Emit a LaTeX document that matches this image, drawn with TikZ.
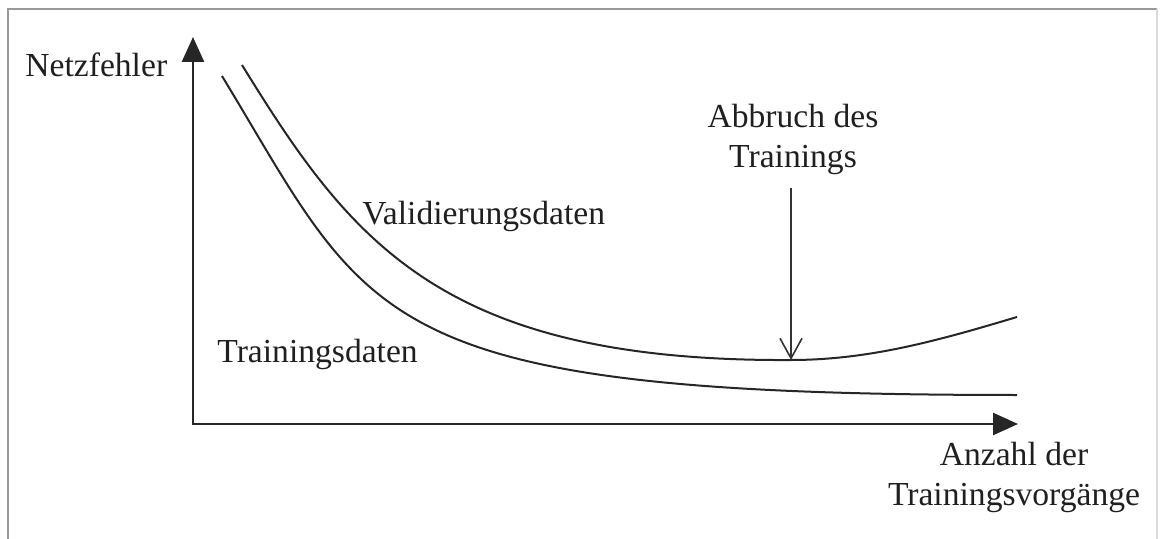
\documentclass[tikz,border=0pt]{standalone}
\usepackage{fontspec}
\setmainfont{Liberation Serif}
\usetikzlibrary{arrows.meta}
\begin{document}
\begin{tikzpicture}[x=0.5pt,y=-0.5pt,
  lbl/.style={inner sep=0pt,font=\fontsize{16.8}{20}\selectfont,text=black!88},
  axis/.style={line width=1.3pt,black!85,-{Triangle[length=12.5pt,width=11pt]}},
  curve/.style={line width=1pt,black!85},
  marker/.style={line width=0.8pt,black!80,-{Straight Barb[length=10pt,width=11pt,line width=0.8pt]}}]
  \useasboundingbox (0,0) rectangle (1160,539);
  % frame
  \draw[line width=1.4pt,black!40] (8,560) -- (8,9) -- (1157,9);
  \draw[line width=0.8pt,black!15] (1157,9) -- (1157,560);
  % axes
  \coordinate (O) at (193,424);
  \coordinate (ytip) at (193,37);
  \coordinate (xtip) at (1018,424);
  \draw[axis] (O) -- (ytip);
  \draw[axis] (O) -- (xtip);
  \draw[line width=1.3pt,black!85] (193,410) -- (O) -- (210,424);
  % validation error
  \coordinate (stop) at (791,360);
  \draw[curve] (242,65) .. controls (350,240) and (440,362) .. (stop)
                        .. controls (870,360) and (940,340) .. (1017,317);
  % training error
  \draw[curve] (222,76) .. controls (372,323) and (367,395) .. (1017,395);
  % labels
  \node[lbl,anchor=base west] (netz) at (25,77) {Netzfehler};
  \node[lbl,anchor=base west] (valid) at (362,225) {Validierungsdaten};
  \node[lbl,anchor=base west] (train) at (217,362) {Trainingsdaten};
  \node[lbl,anchor=base,align=center] (abbruch) at (793,168) {Abbruch des\\Trainings};
  \node[lbl,anchor=base,align=center] (anzahl) at (1014,505) {Anzahl der\\Trainingsvorgänge};
  % stopping point
  \draw[marker] (abbruch.south -| stop) ++(0,12) -- (stop);
\end{tikzpicture}
\end{document}
